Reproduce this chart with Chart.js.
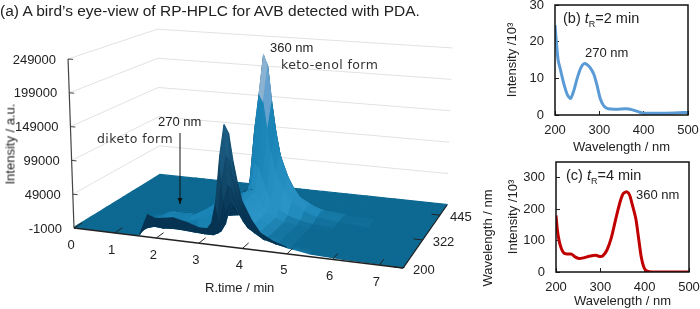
<!DOCTYPE html>
<html>
<head>
<meta charset="utf-8">
<script src="https://cdn.jsdelivr.net/npm/chart.js@4"></script>
<style>
html, body { margin: 0; background: #fff; }
#page { position: relative; width: 700px; height: 309px; overflow: hidden; font-family: "Liberation Sans", sans-serif; color: #222; }
canvas { position: absolute; }
.t { position: absolute; white-space: nowrap; font-size: 13px; line-height: 15px; }
.d { font-family: "DejaVu Sans", sans-serif; font-size: 12.5px; letter-spacing: 0.4px; color: #333; }
.rot { transform: translate(-50%, -50%) rotate(-90deg); }
sub { font-size: 9px; line-height: 0; }
</style>
</head>
<body>
<div id="page">
  <canvas id="surface" width="700" height="309" style="left:0;top:0"></canvas>
  <canvas id="panelB" width="205" height="155" style="left:495px;top:0"></canvas>
  <canvas id="panelC" width="204" height="152" style="left:496px;top:157px"></canvas>
  <div class="t" style="left:0;top:3px;font-size:15.5px">(a) A bird’s eye-view of RP-HPLC for AVB detected with PDA.</div>
  <div class="t" style="left:158px;top:114px">270 nm</div>
  <div class="t" style="left:270px;top:40px">360 nm</div>
  <div class="t d" style="left:97px;top:131px">diketo form</div>
  <div class="t d" style="left:281px;top:57px">keto-enol form</div>
  <div class="t rot" style="left:10px;top:144px">Intensity / a.u.</div>
  <div class="t" style="left:205px;top:280px">R.time / min</div>
  <div class="t rot" style="left:487px;top:238px">Wavelength / nm</div>
  <div class="t" style="left:563px;top:11px;font-size:14.5px">(b) <i>t</i><sub>R</sub>=2 min</div>
  <div class="t" style="left:585px;top:45px">270 nm</div>
  <div class="t" style="left:566px;top:168px;font-size:14.5px">(c) <i>t</i><sub>R</sub>=4 min</div>
  <div class="t" style="left:636px;top:187px">360 nm</div>
</div>
<script>
// panel (b) and (c) spectra, intensity in 10^3
const wavelengthB = [200, 203, 207, 212, 220, 228, 235, 242, 250, 258, 265, 272, 280, 288, 295, 302, 310, 320, 340, 360, 375, 390, 400, 450, 480, 500];
const intensityB = [24.5, 20, 15, 12.5, 8.5, 5.5, 4.5, 6.5, 10, 12.8, 14, 13.8, 12.8, 11, 8, 4.5, 2.5, 1.7, 1.6, 1.7, 1.4, 0.8, 0.5, 0.5, 0.6, 0.7];
const wavelengthC = [200, 203, 207, 212, 218, 225, 235, 243, 252, 262, 275, 290, 300, 306, 315, 325, 335, 345, 352, 360, 366, 372, 380, 387, 392, 397, 402, 410, 430, 500];
const intensityC = [180, 135, 100, 75, 60, 57, 57, 48, 43, 45, 50, 53, 49, 52, 70, 110, 170, 225, 250, 255, 245, 215, 170, 100, 50, 20, 6, 1, 0, 0];
const yTicksB = [0, 10, 20, 30];
const yTicksC = [0, 100, 200, 300];

// panel (a) axes
const rtTicks = [0, 1, 2, 3, 4, 5, 6, 7];
const wlTicks = [200, 322, 445];
const intensityTicks = [-1000, 49000, 99000, 149000, 199000, 249000];

// panel (a) surface, one row per wavelength, intensity in 10^3
const rTimes = [0, 1.0, 1.2, 1.4, 1.6, 1.8, 2.0, 2.2, 2.4, 2.7, 3.0, 3.2, 3.3, 3.4, 3.5, 3.6, 3.7, 3.8, 3.9, 4.0, 4.2, 4.4, 4.7, 5.0, 5.5, 6.2, 7.5];
const rowWavelengths = [200, 205, 212, 222, 235, 250, 270, 290, 305, 320, 340, 360, 380, 395, 410, 500];
const i200 = [0, 0, 0, 0, 1, 31, 27, 29, 31, 27, 21, 21, 30, 61, 128, 172, 160, 120, 89, 65, 41, 24, 14, 8, 3, 1, 0];
const i205 = [0, 0, 0, 1, 3, 22, 20, 21, 22, 18, 14, 16, 23, 46, 97, 130, 121, 91, 68, 49, 31, 18, 10, 6, 3, 1, 0];
const i212 = [0, 0, 0, 1, 4, 14, 13, 13, 14, 12, 10, 10, 14, 30, 63, 85, 79, 60, 44, 32, 20, 12, 7, 4, 2, 1, 0];
const i222 = [0, 0, 0, 1, 4, 8, 7, 8, 8, 7, 6, 6, 9, 20, 43, 58, 54, 41, 30, 22, 14, 8, 5, 3, 1, 0, 0];
const i235 = [0, 0, 1, 2, 6, 5, 5, 5, 5, 5, 5, 5, 8, 19, 41, 55, 51, 39, 29, 21, 13, 8, 4, 2, 1, 0, 0];
const i250 = [0, 0, 1, 3, 6, 10, 9, 10, 10, 16, 24, 30, 34, 38, 44, 46, 41, 31, 23, 17, 11, 6, 4, 2, 1, 0, 0];
const i270 = [0, 0, 1, 4, 8, 14, 13, 13, 14, 24, 37, 40, 42, 47, 51, 50, 46, 34, 25, 19, 12, 7, 4, 2, 1, 0, 0];
const i290 = [0, 0, 1, 3, 5, 10, 9, 10, 10, 18, 32, 36, 37, 43, 50, 52, 48, 36, 27, 20, 12, 7, 4, 2, 1, 0, 0];
const i305 = [0, 0, 0, 1, 2, 4, 3, 3, 4, 8, 18, 21, 25, 31, 42, 50, 47, 35, 26, 19, 12, 7, 4, 2, 1, 0, 0];
const i320 = [0, 0, 0, 0, 1, 2, 2, 2, 2, 2, 4, 6, 11, 28, 61, 85, 79, 60, 44, 32, 20, 12, 7, 4, 2, 1, 0];
const i340 = [0, 0, 0, 0, 1, 2, 1, 2, 2, 3, 5, 10, 22, 59, 133, 185, 172, 130, 96, 70, 44, 26, 15, 8, 4, 1, 0];
const i360 = [0, 0, 0, 0, 1, 2, 2, 2, 3, 4, 7, 13, 30, 78, 175, 243, 226, 170, 126, 92, 58, 34, 19, 11, 5, 1, 0];
const i380 = [0, 0, 0, 0, 1, 1, 1, 1, 2, 3, 5, 9, 20, 53, 119, 165, 153, 116, 86, 63, 40, 23, 13, 7, 3, 1, 0];
const i395 = [0, 0, 0, 0, 0, 1, 1, 1, 1, 1, 1, 2, 5, 11, 25, 35, 33, 25, 18, 13, 8, 5, 3, 2, 1, 0, 0];
const i410 = [0, 0, 0, 0, 0, 0, 0, 1, 1, 0, 0, 0, 0, 1, 1, 2, 2, 1, 1, 1, 0, 0, 0, 0, 0, 0, 0];
const i500 = [0, 0, 0, 0, 0, 0, 0, 0, 0, 0, 0, 0, 0, 0, 0, 0, 0, 0, 0, 0, 0, 0, 0, 0, 0, 0, 0];
const rows = [i200, i205, i212, i222, i235, i250, i270, i290, i305, i320, i340, i360, i380, i395, i410, i500];

// perspective of the 3D box, floor corners
function project(t, wl, kI) {
    const u = t / 7.5;
    const v = (wl - 200) / 300;
    const d = 1 - 0.083 * u + 0.159 * v;
    const x0 = (74 + 295.6 * u + 111.4 * v) / d;
    const y0 = (228 + 17.8 * u - 25.2 * v) / d;
    const h = (kI + 1) * 0.676 / d;
    return { x: x0 + (x0 - 260) * 0.032 * h / 169, y: y0 - h };
}

function mix(a, b, f) {
    f = Math.max(0, Math.min(1, f));
    return a.map((c, i) => c + (b[i] - c) * f);
}

function quadColor(pts, vals, dt) {
    let area = 0;
    for (let i = 0; i < 4; i++) {
        const p = pts[i], q = pts[(i + 1) % 4];
        area += p.x * q.y - q.x * p.y;
    }
    const avg = (vals[0] + vals[1] + vals[2] + vals[3]) / 4;
    const dIt = (vals[1] + vals[2] - vals[0] - vals[3]) / 2 / dt;
    let c;
    if (area > 0) {
        // underside of the sheet
        c = mix([7, 52, 82], [32, 100, 140], (avg - 40) / 130);
    } else if (avg > 200) {
        c = [140, 178, 210];
    } else if (avg > 150) {
        c = [102, 162, 208];
    } else {
        c = mix([13, 105, 146], [26, 132, 182], (avg - 2) / 12);
        if (dIt < 0 && avg > 2) c = mix(c, [62, 165, 215], Math.min(-dIt / 100, 0.6) * (1 - avg / 120));
    }
    return 'rgb(' + c.map(Math.round).join(',') + ')';
}

const datasets = [];

function addLine(points, color, width) {
    datasets.push({ data: points, showLine: true, borderColor: color, borderWidth: width, pointRadius: 0, fill: false });
}

// axes on top of the surface
const axisColor = '#222';
addLine([project(0, 200, -1), project(7.5, 200, -1)], axisColor, 1.6);
addLine([project(7.5, 200, -1), project(7.5, 500, -1)], axisColor, 1.2);
addLine([project(0, 200, -1), project(0, 200, 249)], '#444', 1.2);
rtTicks.forEach(t => addLine([project(t, 200, -1), project(t, 225, -1)], axisColor, 1));
wlTicks.forEach(w => addLine([project(7.5, w, -1), project(7.3, w, -1)], axisColor, 1));
intensityTicks.forEach(v => addLine([project(0, 200, v / 1000), project(0.12, 200, v / 1000)], '#444', 1));

// surface quads, front rows first because chart.js paints the last dataset first
for (let i = 0; i < rows.length - 1; i++) {
    for (let j = rTimes.length - 2; j >= 0; j--) {
        const vals = [rows[i][j], rows[i][j + 1], rows[i + 1][j + 1], rows[i + 1][j]];
        const pts = [
            project(rTimes[j], rowWavelengths[i], vals[0]),
            project(rTimes[j + 1], rowWavelengths[i], vals[1]),
            project(rTimes[j + 1], rowWavelengths[i + 1], vals[2]),
            project(rTimes[j], rowWavelengths[i + 1], vals[3])
        ];
        const color = quadColor(pts, vals, rTimes[j + 1] - rTimes[j]);
        datasets.push({
            data: pts.concat([pts[0]]),
            showLine: true,
            borderColor: color,
            backgroundColor: color,
            borderWidth: 1.2,
            pointRadius: 0,
            fill: 'shape'
        });
    }
}

// wall grid behind the surface
intensityTicks.slice(1).forEach(v => {
    const k = v / 1000;
    addLine([project(0, 200, k), project(0, 500, k), project(7.5, 500, k)], '#e2e2e2', 1);
});

const axisLabels = {
    id: 'axisLabels',
    afterDatasetsDraw(chart) {
        const { ctx, scales } = chart;
        const px = p => ({ x: scales.x.getPixelForValue(p.x), y: scales.y.getPixelForValue(p.y) });
        ctx.save();
        ctx.fillStyle = '#222';
        ctx.font = '13px "Liberation Sans"';
        ctx.textBaseline = 'middle';
        ctx.textAlign = 'center';
        rtTicks.forEach(t => {
            const p = px(project(t, 200, -1));
            ctx.fillText(String(t), p.x - 3, p.y + 17);
        });
        ctx.textAlign = 'left';
        wlTicks.forEach(w => {
            const p = px(project(7.5, w, -1));
            ctx.fillText(String(w), p.x + 10, p.y + 2);
        });
        ctx.textAlign = 'right';
        intensityTicks.forEach(v => {
            const p = px(project(0, 200, v / 1000));
            ctx.fillText(String(v), p.x - 12, p.y + 1);
        });
        // arrow to the diketo band
        ctx.strokeStyle = '#111';
        ctx.lineWidth = 1;
        ctx.beginPath();
        ctx.moveTo(180, 133);
        ctx.lineTo(180, 204);
        ctx.stroke();
        ctx.fillStyle = '#111';
        ctx.beginPath();
        ctx.moveTo(180, 204);
        ctx.lineTo(177.5, 198);
        ctx.lineTo(182.5, 198);
        ctx.closePath();
        ctx.fill();
        ctx.restore();
    }
};

new Chart(document.getElementById('surface'), {
    type: 'scatter',
    data: { datasets: datasets },
    plugins: [axisLabels],
    options: {
        responsive: false,
        animation: false,
        layout: { padding: 0 },
        scales: {
            x: { type: 'linear', min: 0, max: 700, display: false },
            y: { type: 'linear', min: 0, max: 309, reverse: true, display: false }
        },
        plugins: { legend: { display: false }, tooltip: { enabled: false } }
    }
});

const boxBorder = {
    id: 'boxBorder',
    afterDatasetsDraw(chart) {
        const a = chart.chartArea;
        const ctx = chart.ctx;
        ctx.save();
        ctx.strokeStyle = '#111';
        ctx.lineWidth = 1.5;
        ctx.strokeRect(a.left, a.top, a.right - a.left, a.bottom - a.top);
        ctx.restore();
    }
};

function spectrumChart(id, xs, ys, color, yMax, yTicks, xAxisHeight, right, titleTop) {
    return new Chart(document.getElementById(id), {
        type: 'line',
        data: {
            datasets: [{
                data: xs.map((x, i) => ({ x: x, y: ys[i] })),
                borderColor: color,
                borderWidth: 3,
                pointRadius: 0,
                tension: 0.25,
                fill: false
            }]
        },
        plugins: [boxBorder],
        options: {
            responsive: false,
            animation: false,
            layout: { padding: { top: 5, right: right, left: 0, bottom: 0 } },
            scales: {
                x: {
                    type: 'linear',
                    min: 200,
                    max: 500,
                    afterFit(s) { s.height = xAxisHeight; s.paddingLeft = 0; s.paddingRight = 0; },
                    grid: { drawOnChartArea: false, tickLength: -4, tickColor: '#222' },
                    border: { display: false },
                    ticks: { stepSize: 100, maxRotation: 0, padding: 12, color: '#222', font: { family: 'Liberation Sans', size: 13 } },
                    title: { display: true, text: 'Wavelength / nm', color: '#222', padding: { top: titleTop, bottom: 0 }, font: { family: 'Liberation Sans', size: 13 } }
                },
                y: {
                    type: 'linear',
                    min: 0,
                    max: yMax,
                    afterFit(s) { s.width = 60; s.paddingTop = 0; s.paddingBottom = 0; },
                    afterBuildTicks(s) { s.ticks = yTicks.map(v => ({ value: v })); },
                    grid: { drawOnChartArea: false, tickLength: -4, tickColor: '#222' },
                    border: { display: false },
                    ticks: { padding: 15, color: '#222', font: { family: 'Liberation Sans', size: 13 } },
                    title: { display: true, text: 'Intensity /10³', color: '#222', padding: { top: 10, bottom: 0 }, font: { family: 'Liberation Sans', size: 13 } }
                }
            },
            plugins: { legend: { display: false }, tooltip: { enabled: false } }
        }
    });
}

spectrumChart('panelB', wavelengthB, intensityB, '#5b9bd5', 30, yTicksB, 40, 12, 3);
spectrumChart('panelC', wavelengthC, intensityC, '#c00000', 350, yTicksC, 37, 11, 0);
</script>
</body>
</html>
